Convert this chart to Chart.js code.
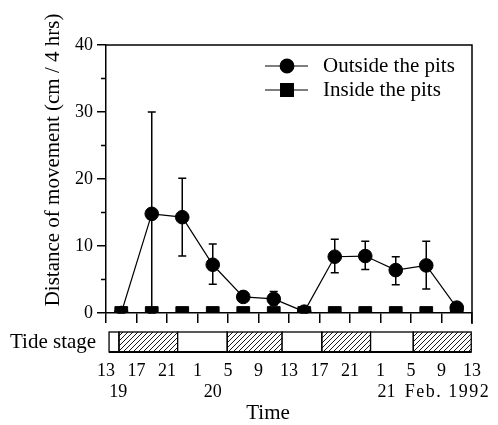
<!DOCTYPE html>
<html><head><meta charset="utf-8">
<script src="https://cdn.jsdelivr.net/npm/chart.js@4.4.1/dist/chart.umd.min.js"></script>
<style>html,body{margin:0;padding:0;background:#fff}#wrap{width:498px;height:425px}</style>
</head><body><div id="wrap"><canvas id="c" width="498" height="425"></canvas></div>
<script>
// ---- data ----
const hours = [2, 6, 10, 14, 18, 22, 26, 30, 34, 38, 42, 46];
const outside = [0, 14.8, 14.3, 7.2, 2.4, 2.1, 0.2, 8.4, 8.5, 6.4, 7.1, 0.8];
const outsideUpper = [0, 30, 20.1, 10.3, 2.8, 3.2, 0.4, 11.0, 10.7, 8.4, 10.7, 1.5];
const outsideLower = [0, 0, 8.5, 4.3, 2.0, 1.2, 0, 6.0, 6.5, 4.2, 3.6, 0.2];
const inside = [0, 0, 0, 0, 0, 0, 0, 0, 0, 0, 0, 0];
const seriesNames = ['Outside the pits', 'Inside the pits'];
const timeLabels = ['13','17','21','1','5','9','13','17','21','1','5','9','13'];
const minorYTicks = [5, 15, 25, 35];
const dateLabels = ['19', '20', '21', 'Feb. 1992'];
const dateHours = [1.6, 14.0, 36.8, 44.8];
const tideFrom = [0.4, 1.7, 9.4, 15.9, 23.1, 28.3, 34.7, 40.3];
const tideTo   = [1.7, 9.4, 15.9, 23.1, 28.3, 34.7, 40.3, 47.9];
const tideHigh = [false, true, false, true, false, true, false, true];
const yTitle = 'Distance of movement (cm / 4 hrs)';
const xTitle = 'Time';
const tideTitle = 'Tide stage';

const SERIF = '"Liberation Serif", "Times New Roman", serif';
Chart.defaults.font.family = SERIF;
Chart.defaults.color = '#000';

function hatchPattern(ctx) {
  const c = document.createElement('canvas');
  c.width = 5; c.height = 5;
  const g = c.getContext('2d');
  g.strokeStyle = '#000'; g.lineWidth = 0.9;
  g.beginPath();
  g.moveTo(0, 5); g.lineTo(5, 0);
  g.moveTo(-1, 1); g.lineTo(1, -1);
  g.moveTo(4, 6); g.lineTo(6, 4);
  g.stroke();
  return ctx.createPattern(c, 'repeat');
}

const decor = {
  id: 'decor',
  beforeDatasetsDraw(chart) {
    const ctx = chart.ctx, xs = chart.scales.x, ys = chart.scales.y;
    ctx.save();
    ctx.strokeStyle = '#000'; ctx.lineWidth = 1.5;
    hours.forEach((h, i) => {
      const px = xs.getPixelForValue(h);
      const t = ys.getPixelForValue(outsideUpper[i]);
      const b = ys.getPixelForValue(outsideLower[i]);
      ctx.beginPath();
      ctx.moveTo(px, t); ctx.lineTo(px, b);
      ctx.moveTo(px - 4, t); ctx.lineTo(px + 4, t);
      ctx.moveTo(px - 4, b); ctx.lineTo(px + 4, b);
      ctx.stroke();
    });
    ctx.restore();
  },
  afterDraw(chart) {
    const ctx = chart.ctx, xs = chart.scales.x, ys = chart.scales.y, a = chart.chartArea;
    ctx.save();
    // frame top + right
    ctx.strokeStyle = '#000'; ctx.lineWidth = 1.5;
    ctx.beginPath();
    ctx.moveTo(a.left, a.top); ctx.lineTo(a.right, a.top); ctx.lineTo(a.right, a.bottom + 11);
    ctx.stroke();
    // minor y ticks
    ctx.beginPath();
    minorYTicks.forEach(v => {
      const py = ys.getPixelForValue(v);
      ctx.moveTo(a.left - 5, py); ctx.lineTo(a.left, py);
    });
    ctx.stroke();
    // tide bar
    const top = a.bottom + 19, h = 20;
    const pat = hatchPattern(ctx);
    tideFrom.forEach((f, i) => {
      const x0 = xs.getPixelForValue(f), x1 = xs.getPixelForValue(tideTo[i]);
      ctx.fillStyle = tideHigh[i] ? pat : '#fff';
      ctx.fillRect(x0, top, x1 - x0, h);
      ctx.lineWidth = 1.3;
      ctx.strokeRect(x0, top, x1 - x0, h);
    });
    ctx.lineWidth = 2;
    ctx.beginPath();
    ctx.moveTo(xs.getPixelForValue(tideFrom[0]), top + h);
    ctx.lineTo(xs.getPixelForValue(tideTo[tideTo.length - 1]), top + h);
    ctx.stroke();
    // texts
    ctx.fillStyle = '#000';
    ctx.font = '21px ' + SERIF;
    ctx.textBaseline = 'middle'; ctx.textAlign = 'left';
    ctx.fillText(tideTitle, 10, top + 10);
    // date labels
    ctx.font = '18px ' + SERIF;
    ctx.textAlign = 'center';
    dateLabels.forEach((t, i) => {
      const px = xs.getPixelForValue(dateHours[i]);
      ctx.letterSpacing = t.length > 3 ? '1.5px' : '0px';
      ctx.fillText(t, px, 392);
    });
    ctx.letterSpacing = '0px';
    // x title
    ctx.font = '21px ' + SERIF;
    ctx.fillText(xTitle, 268, 413);
    // y title
    ctx.save();
    ctx.translate(53, 160);
    ctx.rotate(-Math.PI / 2);
    ctx.fillText(yTitle, 0, 0);
    ctx.restore();
    // legend
    const ds = chart.data.datasets;
    ds.forEach((d, i) => {
      const ly = 66 + 24 * i;
      ctx.strokeStyle = '#000'; ctx.lineWidth = 1.2;
      ctx.beginPath(); ctx.moveTo(265, ly); ctx.lineTo(308, ly); ctx.stroke();
      ctx.fillStyle = '#000';
      Chart.helpers.drawPoint(ctx, { pointStyle: d.pointStyle, radius: d.pointRadius, rotation: 0, borderWidth: 1 }, 287, ly);
      ctx.fill();
      ctx.textAlign = 'left';
      ctx.font = '21px ' + SERIF;
      ctx.fillText(d.label, 323, ly);
    });
    ctx.restore();
  }
};

new Chart(document.getElementById('c'), {
  type: 'line',
  data: {
    datasets: [
      { label: seriesNames[0], data: hours.map((h, i) => ({ x: h, y: outside[i] })),
        borderColor: '#000', backgroundColor: '#000', borderWidth: 1.2,
        pointStyle: 'circle', pointRadius: 6.8, pointBorderWidth: 1, order: 2 },
      { label: seriesNames[1], data: hours.map((h, i) => ({ x: h, y: inside[i] })),
        borderColor: '#000', backgroundColor: '#000', borderWidth: 1.2,
        pointStyle: 'rect', pointRadius: 9, pointBorderWidth: 1, order: 1 }
    ]
  },
  options: {
    responsive: false, animation: false, devicePixelRatio: 1,
    layout: { padding: { left: 0, top: 45, right: 26, bottom: 0 } },
    plugins: { legend: { display: false }, tooltip: { enabled: false } },
    scales: {
      x: {
        type: 'linear', min: 0, max: 48,
        afterFit(s) { s.height = 112; s.paddingLeft = 0; s.paddingRight = 0; },
        border: { display: true, color: '#000', width: 1.5 },
        grid: { drawOnChartArea: false, drawTicks: true, tickLength: 10, color: '#000', lineWidth: 1.5 },
        ticks: { stepSize: 4, autoSkip: false, maxRotation: 0, padding: 37,
          font: { size: 18, family: SERIF }, color: '#000',
          callback: (v, i) => timeLabels[i] }
      },
      y: {
        min: 0, max: 40,
        afterFit(s) { s.width = 106; },
        border: { display: true, color: '#000', width: 1.5 },
        grid: { drawOnChartArea: false, drawTicks: true, tickLength: 9, color: '#000', lineWidth: 1.5 },
        ticks: { stepSize: 10, padding: 4, font: { size: 18, family: SERIF }, color: '#000' }
      }
    }
  },
  plugins: [decor]
});
</script>
</body></html>
